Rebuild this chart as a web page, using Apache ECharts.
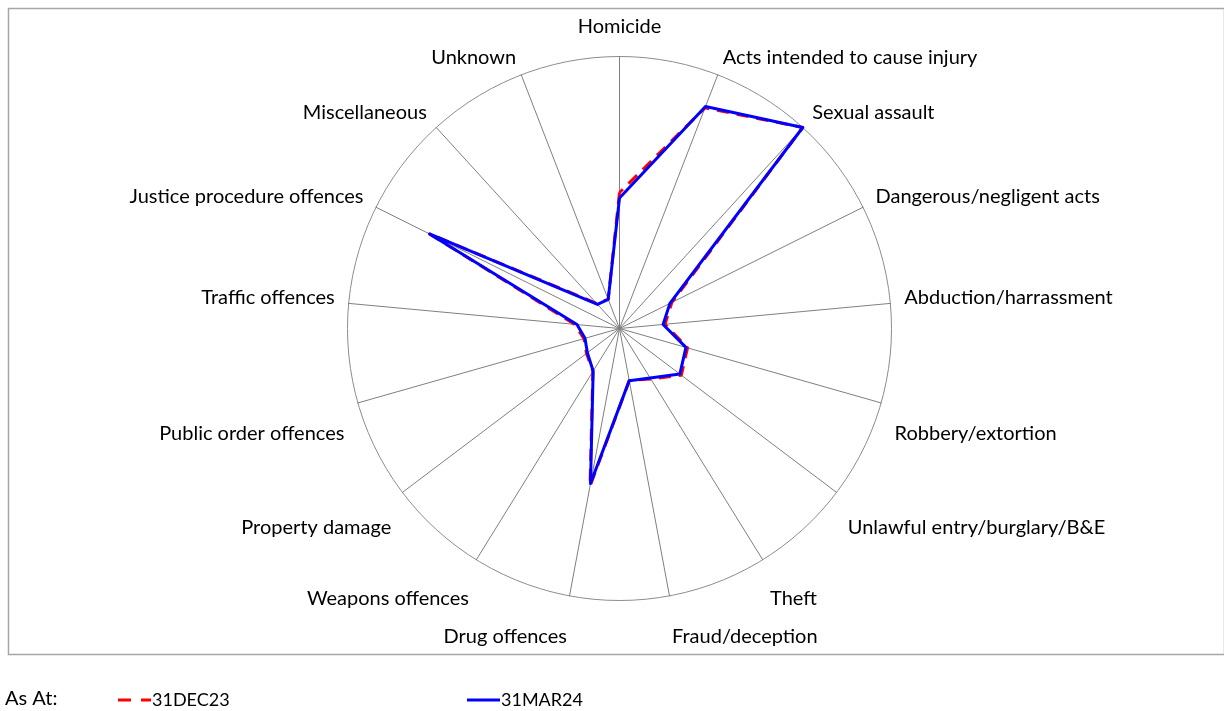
<!DOCTYPE html>
<html>
<head>
<meta charset="utf-8">
<script src="https://cdn.jsdelivr.net/npm/echarts@6/dist/echarts.min.js"></script>
<style>
  html, body { margin: 0; padding: 0; background: #fff; }
  #chart { width: 1224px; height: 711px; }
</style>
</head>
<body>
<div id="chart"></div>
<script>
// categories (clockwise from top)
var categories = [
  'Homicide', 'Acts intended to cause injury', 'Sexual assault', 'Dangerous/negligent acts',
  'Abduction/harrassment', 'Robbery/extortion', 'Unlawful entry/burglary/B&E', 'Theft',
  'Fraud/deception', 'Drug offences', 'Weapons offences', 'Property damage',
  'Public order offences', 'Traffic offences', 'Justice procedure offences', 'Miscellaneous', 'Unknown'
]
// values, as % of the outer ring
var dec23 = [50, 87, 100, 21.5, 16.8, 26, 28.5, 21.8, 19.5, 59, 18.6, 15.2, 13.6, 16.5, 78, 12.5, 11.5]
var mar24 = [48, 87.5, 100, 20.7, 16.1, 25.4, 27.8, 21.4, 19.5, 58, 18.4, 14.8, 13.2, 15.7, 78, 12, 11.5]
var maxValue = 100

// echarts radar goes anticlockwise, so keep the first item and flip the rest
function clockwise (arr) {
  return [arr[0]].concat(arr.slice(1).reverse())
}

var font = 'Lato, "Liberation Sans", sans-serif'
var chart = echarts.init(document.getElementById('chart'))

var option = {
  animation: false,
  title: {
    text: 'As At:', left: 0, top: 684,
    textStyle: { fontFamily: font, fontSize: 20, fontWeight: 'normal', color: '#000' }
  },
  legend: [
    {
      data: [{ name: '31DEC23', icon: 'path://M0,0h13v3h-13z M23,0h10v3h-10z' }],
      left: 113, top: 686, itemWidth: 33, itemHeight: 3, itemGap: 2,
      textStyle: { fontFamily: font, fontSize: 18, color: '#000', padding: [0, 0, 0, -4] }
    },
    {
      data: [{ name: '31MAR24', icon: 'rect' }],
      left: 462, top: 686, itemWidth: 33, itemHeight: 3,
      textStyle: { fontFamily: font, fontSize: 18, color: '#000', padding: [0, 0, 0, -4] }
    }
  ],
  graphic: [{
    type: 'rect', left: 6, top: 6, silent: true,
    shape: { width: 1216, height: 646 },
    style: { fill: 'none', stroke: '#a6a6a6', lineWidth: 1.5 }
  }],
  radar: {
    center: [619.5, 328.5],
    radius: 272,
    shape: 'circle',
    splitNumber: 1,
    startAngle: 90,
    indicator: clockwise(categories).map(function (c) { return { name: c, max: maxValue, min: 0 } }),
    axisName: {
      color: '#000', fontFamily: font, fontSize: 20,
      formatter: function (name) {
        var i = categories.indexOf(name)
        if (i === 0) return '{top|' + name + '}'
        if (i >= 5 && i <= 12) return '{low|' + name + '}'
        return '{up|' + name + '}'
      },
      rich: {
        top: { fontFamily: font, fontSize: 20, color: '#000', padding: [0, 0, 6, 0] },
        up: { fontFamily: font, fontSize: 20, color: '#000', padding: [0, 0, 9, 0] },
        low: { fontFamily: font, fontSize: 20, color: '#000', padding: [54, 0, 0, 0] }
      }
    },
    nameGap: 14,
    axisLine: { lineStyle: { color: '#7f7f7f', width: 1 } },
    splitLine: { lineStyle: { color: '#8c8c8c', width: 1 } },
    splitArea: { show: false }
  },
  series: [{
    type: 'radar',
    symbol: 'none',
    data: [
      { name: '31DEC23', value: clockwise(dec23), itemStyle: { color: '#ff0000' },
        lineStyle: { color: '#ff0000', width: 3, type: [12, 8] } },
      { name: '31MAR24', value: clockwise(mar24), itemStyle: { color: '#0000ff' },
        lineStyle: { color: '#0000ff', width: 3 } }
    ]
  }]
}
chart.setOption(option)
</script>
</body>
</html>
